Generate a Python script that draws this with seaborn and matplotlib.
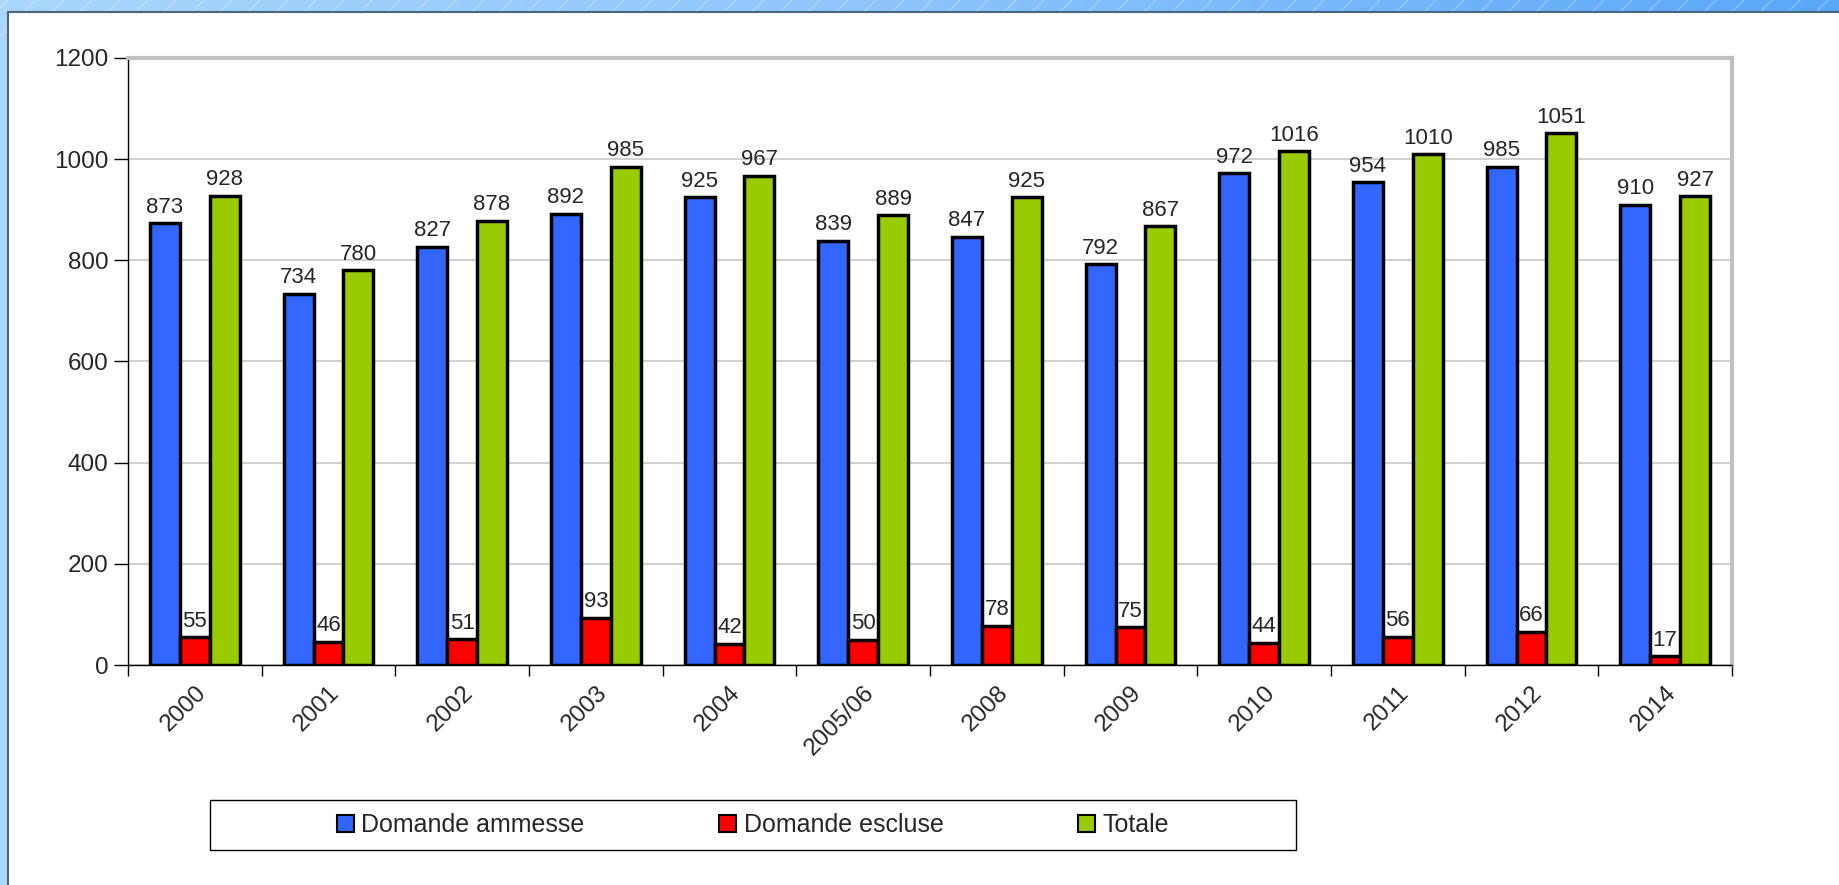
import numpy as np
import pandas as pd
import matplotlib
matplotlib.use("Agg")
import matplotlib.pyplot as plt
from matplotlib.patches import Rectangle, Patch
from matplotlib.colors import LinearSegmentedColormap
import seaborn as sns

# dati
anni = ["2000", "2001", "2002", "2003", "2004", "2005/06", "2008", "2009",
        "2010", "2011", "2012", "2014"]
ammesse = [873, 734, 827, 892, 925, 839, 847, 792, 972, 954, 985, 910]
escluse = [55, 46, 51, 93, 42, 50, 78, 75, 44, 56, 66, 17]
totale = [928, 780, 878, 985, 967, 889, 925, 867, 1016, 1010, 1051, 927]

serie = ["Domande ammesse", "Domande escluse", "Totale"]
colori = ["#3366FF", "#FF0000", "#99CC00"]

df = pd.DataFrame({
    "Anno": anni * 3,
    "Serie": [serie[0]] * len(anni) + [serie[1]] * len(anni) + [serie[2]] * len(anni),
    "Valore": ammesse + escluse + totale,
})

sns.set_style("white")
plt.rcParams["font.family"] = ["Liberation Sans", "DejaVu Sans"]

W, H = 1840, 885
fig = plt.figure(figsize=(W / 100, H / 100), dpi=100)
fig.patch.set_facecolor("white")

# cornice blu in stile PowerPoint
bg = fig.add_axes([0, 0, 1, 1], zorder=-5)
bg.set_xlim(0, W)
bg.set_ylim(H, 0)
bg.axis("off")
cmap = LinearSegmentedColormap.from_list("cornice", ["#aad6fc", "#8cc4fb", "#5aa8f8"])
grad = np.tile(np.linspace(0, 1, 256), (8, 1))
bg.imshow(grad, cmap=cmap, extent=[0, W, H, 0], aspect="auto")
for x0 in range(-200, W + 200, 28):
    bg.plot([x0, x0 + 40], [40, 0], color="white", alpha=0.35, lw=0.8)
bg.add_patch(Rectangle((8, 12), W, H, facecolor="white", edgecolor="#4a6580", lw=1.5, zorder=3))

# area del grafico
ax = fig.add_axes([128 / W, 1 - 665 / H, (1732 - 128) / W, (665 - 58) / H])
sns.barplot(data=df, x="Anno", y="Valore", hue="Serie", palette=colori,
            width=0.67, gap=0, edgecolor="black", linewidth=2.5, saturation=1,
            ax=ax, legend=False, zorder=3)

for cont in ax.containers:
    ax.bar_label(cont, fmt="%d", padding=4, fontsize=16)

ax.set_ylim(0, 1200)
ax.set_yticks(range(0, 1201, 200))
ax.set_xlim(-0.5, len(anni) - 0.5)
ax.set_xlabel("")
ax.set_ylabel("")
ax.yaxis.grid(True, color="#c8c8c8", linewidth=1.2)
ax.set_axisbelow(True)

for s in ["top", "right"]:
    ax.spines[s].set_color("#c0c0c0")
    ax.spines[s].set_linewidth(3)
for s in ["left", "bottom"]:
    ax.spines[s].set_color("black")
    ax.spines[s].set_linewidth(1)

ax.tick_params(axis="y", labelsize=17.5, length=10, width=1, color="black",
               direction="out", left=True, pad=4)
ax.set_xticks(range(len(anni)))
ax.set_xticklabels(anni, rotation=45, ha="right", rotation_mode="anchor", fontsize=17.5)
ax.tick_params(axis="x", which="major", length=0, pad=12)
ax.set_xticks(np.arange(-0.5, len(anni), 1), minor=True)
ax.tick_params(axis="x", which="minor", length=8, width=1, color="black",
               direction="out", bottom=True)

# legenda
fig.add_artist(Rectangle((210 / W, 1 - 850 / H), (1296 - 210) / W, 50 / H,
                         transform=fig.transFigure, facecolor="white",
                         edgecolor="black", lw=1))
handles = [Patch(facecolor=c, edgecolor="black", lw=1.5) for c in colori]
fig.legend(handles, serie, loc="center", bbox_to_anchor=(753 / W, 1 - 825 / H),
           ncol=3, frameon=False, fontsize=18, handlelength=0.67, handleheight=0.67,
           handletextpad=0.3, columnspacing=5.4)

plt.savefig("out.png", dpi=100)
plt.close()
